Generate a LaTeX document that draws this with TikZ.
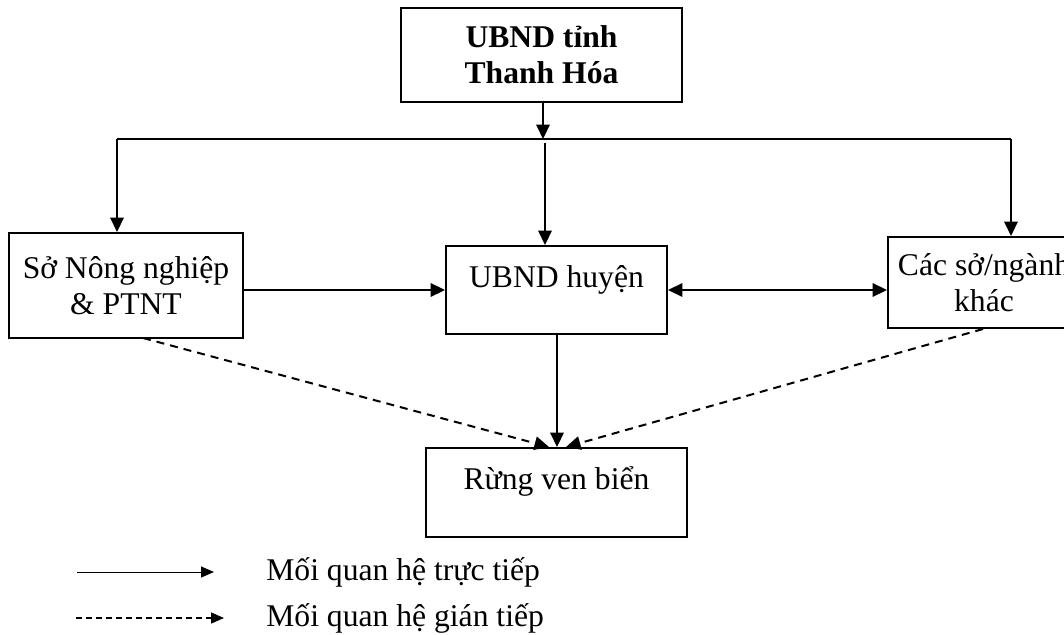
\documentclass[tikz,border=0pt]{standalone}
\usepackage{fontspec}
\setmainfont{Liberation Serif}
\usetikzlibrary{arrows.meta}
\begin{document}
\begin{tikzpicture}[x=0.02cm,y=-0.02cm,
  box/.style={draw,line width=0.4mm,inner sep=0pt,align=center,font=\fontsize{18}{20.5}\selectfont},
  tip/.style={-{Triangle[length=2.9mm,width=2.7mm]}},
  conn/.style={line width=0.4mm,tip},
  dconn/.style={conn,dash pattern=on 1.6mm off 1.2mm},
  legtxt/.style={anchor=west,inner sep=0pt,font=\fontsize{18}{20.5}\selectfont},
]
\useasboundingbox (0,0) rectangle (1064,635);
% boxes
\node[box,minimum width=5.62cm,minimum height=1.88cm] (top) at (541.5,55) {\bfseries UBND tỉnh\\\bfseries Thanh Hóa};
\node[box,minimum width=4.68cm,minimum height=2.1cm] (so) at (126,285.5) {Sở Nông nghiệp\\\& PTNT};
\node[box,minimum width=4.42cm,text height=0.82cm,text depth=0.94cm] (huyen) at (556.5,290) {UBND huyện};
\node[box,minimum width=3.84cm,minimum height=1.82cm] (cacso) at (984,282.5) {Các sở/ngành\\khác};
\node[box,minimum width=5.22cm,text height=0.82cm,text depth=0.96cm] (rung) at (556.5,492.5) {Rừng ven biển};
% bus
\coordinate (busL) at (117,139);
\coordinate (busC) at (543,139);
\coordinate (busC2) at (545,143);
\coordinate (busR) at (1011,139);
\draw[conn] (top.south -| busC) -- (busC);
\draw[line width=0.4mm] (busL) -- (busR);
\draw[conn] (busL) -- (busL |- so.north);
\draw[conn] (busR) -- (busR |- cacso.north);
\draw[conn] (busC2) -- (busC2 |- huyen.north);
% horizontal links
\draw[conn] (so.east |- huyen.east) -- (huyen.west);
\draw[line width=0.4mm,{Triangle[length=2.9mm,width=2.7mm]}-{Triangle[length=2.9mm,width=2.7mm]}] (huyen.east) -- (cacso.west |- huyen.east);
% to forest
\coordinate (hb) at (557,334);
\draw[conn] (hb) -- (hb |- rung.north);
\coordinate (sob) at (143,338);
\coordinate (cab) at (983,329);
\coordinate (rl) at (549,447);
\coordinate (rr) at (566,447);
\draw[dconn] (sob) -- (rl);
\draw[dconn] (cab) -- (rr);
% legend
\coordinate (l1a) at (77,572);
\coordinate (l1b) at (214,572);
\coordinate (l2a) at (76,618);
\coordinate (l2b) at (224,618);
\draw[line width=0.2mm,-{Triangle[length=2.6mm,width=2.2mm]}] (l1a) -- (l1b);
\draw[line width=0.25mm,dash pattern=on 1.2mm off 0.8mm,-{Triangle[length=2.6mm,width=2.2mm]}] (l2a) -- (l2b);
\node[legtxt] (t1) at (266,572) {Mối quan hệ trực tiếp};
\node[legtxt] (t2) at (266,618) {Mối quan hệ gián tiếp};
\end{tikzpicture}
\end{document}
